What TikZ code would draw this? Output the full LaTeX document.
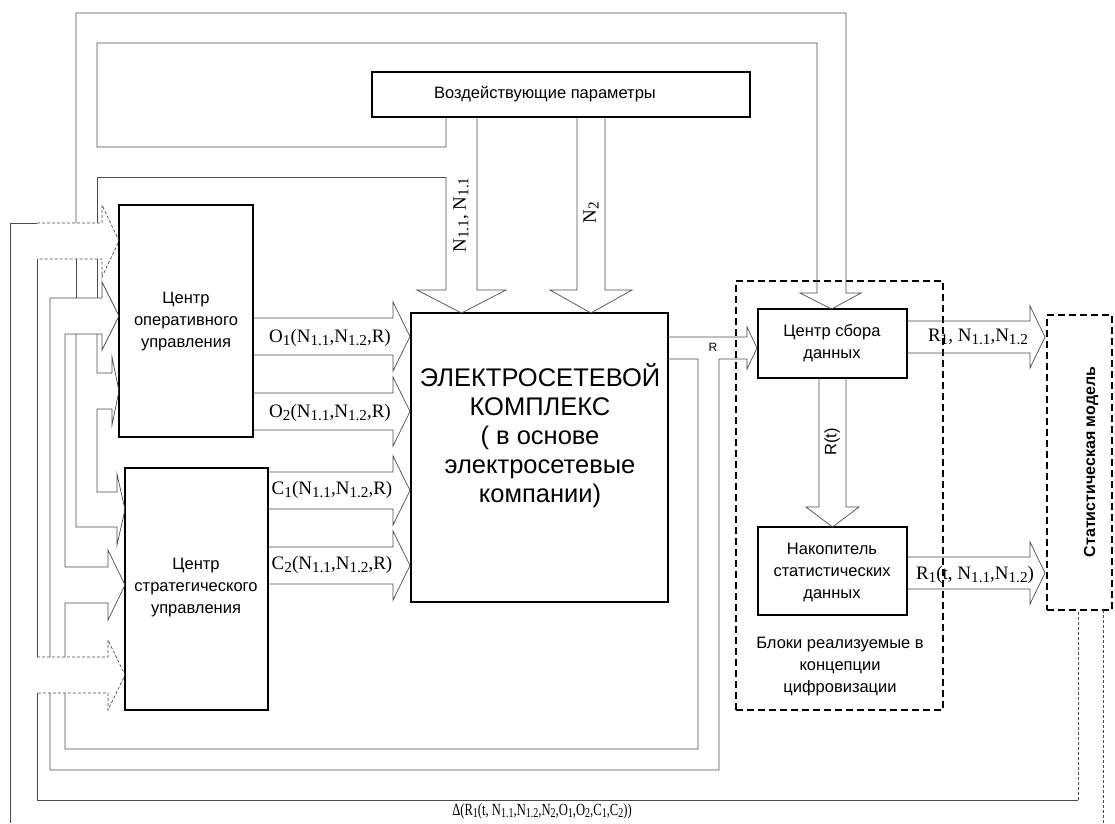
\documentclass[tikz,border=0pt]{standalone}
\usepackage{fontspec}
\setmainfont{Liberation Serif}
\setsansfont{Liberation Sans}
\newcommand\idx[1]{\raisebox{-0.3ex}{\fontsize{0.8em}{0.8em}\selectfont #1}}
\definecolor{pipegray}{gray}{0.3}
\tikzset{
  box/.style={draw=black, line width=1.6pt, inner sep=0pt},
  dashbox/.style={draw=black, line width=1.6pt, dash pattern=on 7pt off 4pt, inner sep=0pt},
  pipe/.style={draw=pipegray, line width=0.7pt},
  dpipe/.style={pipe, dash pattern=on 3pt off 2pt},
  txt/.style={font=\sffamily\fontsize{16.5}{22}\selectfont, align=center, inner sep=0pt},
  lbl/.style={font=\fontsize{19}{21}\selectfont, inner sep=0pt},
}
\begin{document}
\begin{tikzpicture}[x=1pt,y=-1pt]
\useasboundingbox (0,0) rectangle (1115,823);
% blocks
\node[box,minimum width=378,minimum height=45] (vp) at (561,94.5) {};
\node[txt] (vptxt) at (545,94) {Воздействующие параметры};
\node[box,minimum width=134,minimum height=232] (oper) at (186,321) {};
\node[txt] (opertxt) at (186,322) {Центр\\оперативного\\управления};
\node[box,minimum width=143,minimum height=242] (strat) at (196.5,589) {};
\node[txt] (strattxt) at (196,588) {Центр\\стратегического\\управления};
\node[box,minimum width=257,minimum height=289] (grid) at (539.5,457.5) {};
\node[txt,font=\sffamily\fontsize{25.5}{29}\selectfont] (gridtxt) at (540,436) {ЭЛЕКТРОСЕТЕВОЙ\\КОМПЛЕКС\\( в основе\\электросетевые\\компании)};
\node[box,minimum width=149,minimum height=69] (collect) at (832.5,343.5) {};
\node[txt] (collecttxt) at (832,343) {Центр сбора\\данных};
\node[box,minimum width=149,minimum height=88] (store) at (832.5,571) {};
\node[txt] (storetxt) at (832,572) {Накопитель\\статистических\\данных};
\node[dashbox,minimum width=207,minimum height=429] (digital) at (839.5,495.5) {};
\node[txt] (digitaltxt) at (840,667) {Блоки реализуемые в\\концепции\\цифровизации};
\node[dashbox,minimum width=65,minimum height=295] (model) at (1079.5,462.5) {};
\node[txt,font=\sffamily\bfseries\fontsize{16}{18}\selectfont,rotate=90] (modeltxt) at (1091,462) {Статистическая модель};

% N arrow with branch over the top to the data centre
\draw[pipe] (446,117) -- (446,147) -- (97,147) -- (97,43) -- (817,43) -- (817,293) -- (800,293) -- (831.5,309) -- (861,293) -- (846,293) -- (846,13) -- (76,13) -- (76,223);
\draw[pipe] (446,177) -- (446,290) -- (417,290) -- (461.5,313) -- (506,290) -- (477,290) -- (477,117);
\draw[pipe] (446,177) -- (97,177) -- (97,223);
\draw[pipe] (577,117) -- (577,290) -- (550,290) -- (591,313) -- (632,290) -- (605,290) -- (605,117);
% N pipe down the left side
\draw[pipe] (76,259) -- (76,298) (97,259) -- (97,298);
\draw[pipe] (76,334) -- (76,527) -- (117,527) -- (117,545) -- (125,509.5) -- (117,474) -- (117,492) -- (97,492) -- (97,409) -- (112,409) -- (112,425) -- (119,391) -- (112,357) -- (112,373) -- (97,373) -- (97,334);
% R pipe
\draw[pipe] (668,337) -- (747,337) -- (747,327) -- (757,348) -- (747,369) -- (747,359) -- (719,359) -- (719,770) -- (50,770) -- (50,693) (50,657) -- (50,298) -- (102,298) -- (102,282) -- (119,316) -- (102,350) -- (102,334) -- (65,334) -- (65,567) -- (108,567) -- (108,550) -- (125,585) -- (108,620) -- (108,603) -- (65,603) -- (65,657) (65,693) -- (65,749) -- (698,749) -- (698,359) -- (668,359);
% delta pipe
\draw[pipe] (10,823) -- (10,223) -- (37,223);
\draw[dpipe] (37,223) -- (102,223) -- (102,205) -- (119,241) -- (102,277) -- (102,259) -- (37,259);
\draw[pipe] (37,259) -- (37,657);
\draw[dpipe] (37,657) -- (108,657) -- (108,640) -- (125,675) -- (108,710) -- (108,693) -- (37,693);
\draw[pipe] (37,693) -- (37,800) -- (1078,800);
\draw[dpipe] (1078,800) -- (1078,610) (1103,610) -- (1103,823);
% outputs of the centres
\foreach \ya/\xs in {318/253,393/253,472/268,547/268}{
  \draw[pipe] (\xs,\ya) -- (393,\ya) -- (393,\ya-16) -- (410,\ya+18.5) -- (393,\ya+53) -- (393,\ya+37) -- (\xs,\ya+37);
}
\draw[pipe] (819,378) -- (819,507) -- (806,507) -- (832.5,527) -- (859,507) -- (846,507) -- (846,378);
\foreach \ya in {321,557}{
  \draw[pipe] (907,\ya) -- (1030,\ya) -- (1030,\ya-15) -- (1045,\ya+16) -- (1030,\ya+47) -- (1030,\ya+32) -- (907,\ya+32);
}
% labels
\node[lbl,rotate=90] (n11) at (461,215) {N\idx{1.1}, N\idx{1.1}};
\node[lbl,rotate=90] (n2) at (591,213) {N\idx{2}};
\node[lbl] (o1) at (330,338) {O\idx{1}(N\idx{1.1},N\idx{1.2},R)};
\node[lbl] (o2) at (330,413) {O\idx{2}(N\idx{1.1},N\idx{1.2},R)};
\node[lbl] (c1) at (332,490) {C\idx{1}(N\idx{1.1},N\idx{1.2},R)};
\node[lbl] (c2) at (332,565) {C\idx{2}(N\idx{1.1},N\idx{1.2},R)};
\node[font=\sffamily\fontsize{12}{14}\selectfont,inner sep=0pt] (rlbl) at (713,347) {R};
\node[txt,rotate=90] (rt) at (832,442) {R(t)};
\node[lbl] (r1n) at (978,337) {R\idx{1}, N\idx{1.1},N\idx{1.2}};
\node[lbl] (r1t) at (975,575) {R\idx{1}(t, N\idx{1.1},N\idx{1.2})};
\node[font=\fontsize{17}{19}\selectfont,inner sep=0pt] (delta) at (542,811) {\scalebox{0.74}[1]{Δ(R\idx{1}(t, N\idx{1.1},N\idx{1.2},N\idx{2},O\idx{1},O\idx{2},C\idx{1},C\idx{2}))}};
\end{tikzpicture}
\end{document}
